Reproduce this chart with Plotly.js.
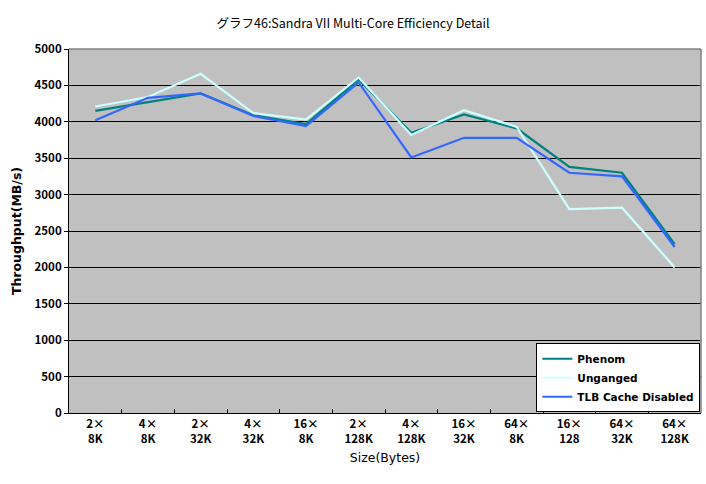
<!DOCTYPE html>
<html><head><meta charset="utf-8">
<script src="https://cdn.plot.ly/plotly-3.0.1.min.js"></script>
<style>body{margin:0;background:#fff}#c{width:706px;height:484px}</style>
</head><body><div id="c"></div>
<script>
const categories = ["2×<br>8K","4×<br>8K","2×<br>32K","4×<br>32K","16×<br>8K","2×<br>128K","4×<br>128K","16×<br>32K","64×<br>8K","16×<br>128","64×<br>32K","64×<br>128K"];
const phenom   = [4150,4270,4390,4090,3970,4580,3850,4100,3910,3380,3300,2320];
const unganged = [4210,4340,4660,4120,4030,4610,3820,4160,3930,2800,2820,2000];
const tlb      = [4020,4330,4390,4080,3940,4540,3510,3780,3780,3300,3250,2280];
const yTicks   = [0,500,1000,1500,2000,2500,3000,3500,4000,4500,5000];

const F = '"Noto Sans CJK JP", "DejaVu Sans", sans-serif';
const D = '"DejaVu Sans", sans-serif';
const traces = [
  {name:"Phenom", x:categories, y:phenom, type:"scatter", mode:"lines", line:{color:"#008080", width:2.2}},
  {name:"Unganged", x:categories, y:unganged, type:"scatter", mode:"lines", line:{color:"#CCFFFF", width:2.2}},
  {name:"TLB Cache Disabled", x:categories, y:tlb, type:"scatter", mode:"lines", line:{color:"#3366FF", width:2.2}}
];
const layout = {
  width:706, height:484,
  margin:{l:69, r:5, t:49, b:71, autoexpand:false},
  paper_bgcolor:"#ffffff", plot_bgcolor:"#C0C0C0",
  font:{family:F, size:11, color:"#000"},
  title:{text:"グラフ46:Sandra VII Multi-Core Efficiency Detail", x:0.5, xanchor:"center", y:0.952, yanchor:"middle", font:{family:F, size:12.5, color:"#000"}},
  xaxis:{type:"category", range:[-0.5, 11.5], showline:true, linecolor:"#000", linewidth:1, showgrid:false,
    ticks:"inside", tickson:"boundaries", ticklen:4, tickcolor:"#000",
    tickfont:{family:F, size:11.5, weight:"bold"},
    title:{text:"Size(Bytes)", font:{family:D, size:12.5}, standoff:8}},
  yaxis:{range:[0,5000], tickvals:yTicks, showline:true, linecolor:"#000", linewidth:1,
    showgrid:true, gridcolor:"#000", gridwidth:1, ticks:"outside", ticklen:4, tickcolor:"#000",
    tickfont:{family:F, size:11.5, weight:"bold"}, zeroline:false,
    title:{text:"Throughput(MB/s)", font:{family:D, size:12.5, weight:"bold"}, standoff:10}},
  legend:{x:0.999, xanchor:"right", y:0.002, yanchor:"bottom", bgcolor:"#ffffff", bordercolor:"#000", borderwidth:1,
    font:{family:D, size:10.5, weight:"bold"}, tracegroupgap:0, itemwidth:30},
  shapes:[
    {type:"line", xref:"paper", yref:"paper", x0:0, x1:1, y0:1, y1:1, line:{color:"#808080", width:1.5}},
    {type:"line", xref:"paper", yref:"paper", x0:1, x1:1, y0:0, y1:1, line:{color:"#808080", width:1.5}}
  ],
  showlegend:true
};
Plotly.newPlot("c", traces, layout, {displayModeBar:false, staticPlot:true});
</script></body></html>
